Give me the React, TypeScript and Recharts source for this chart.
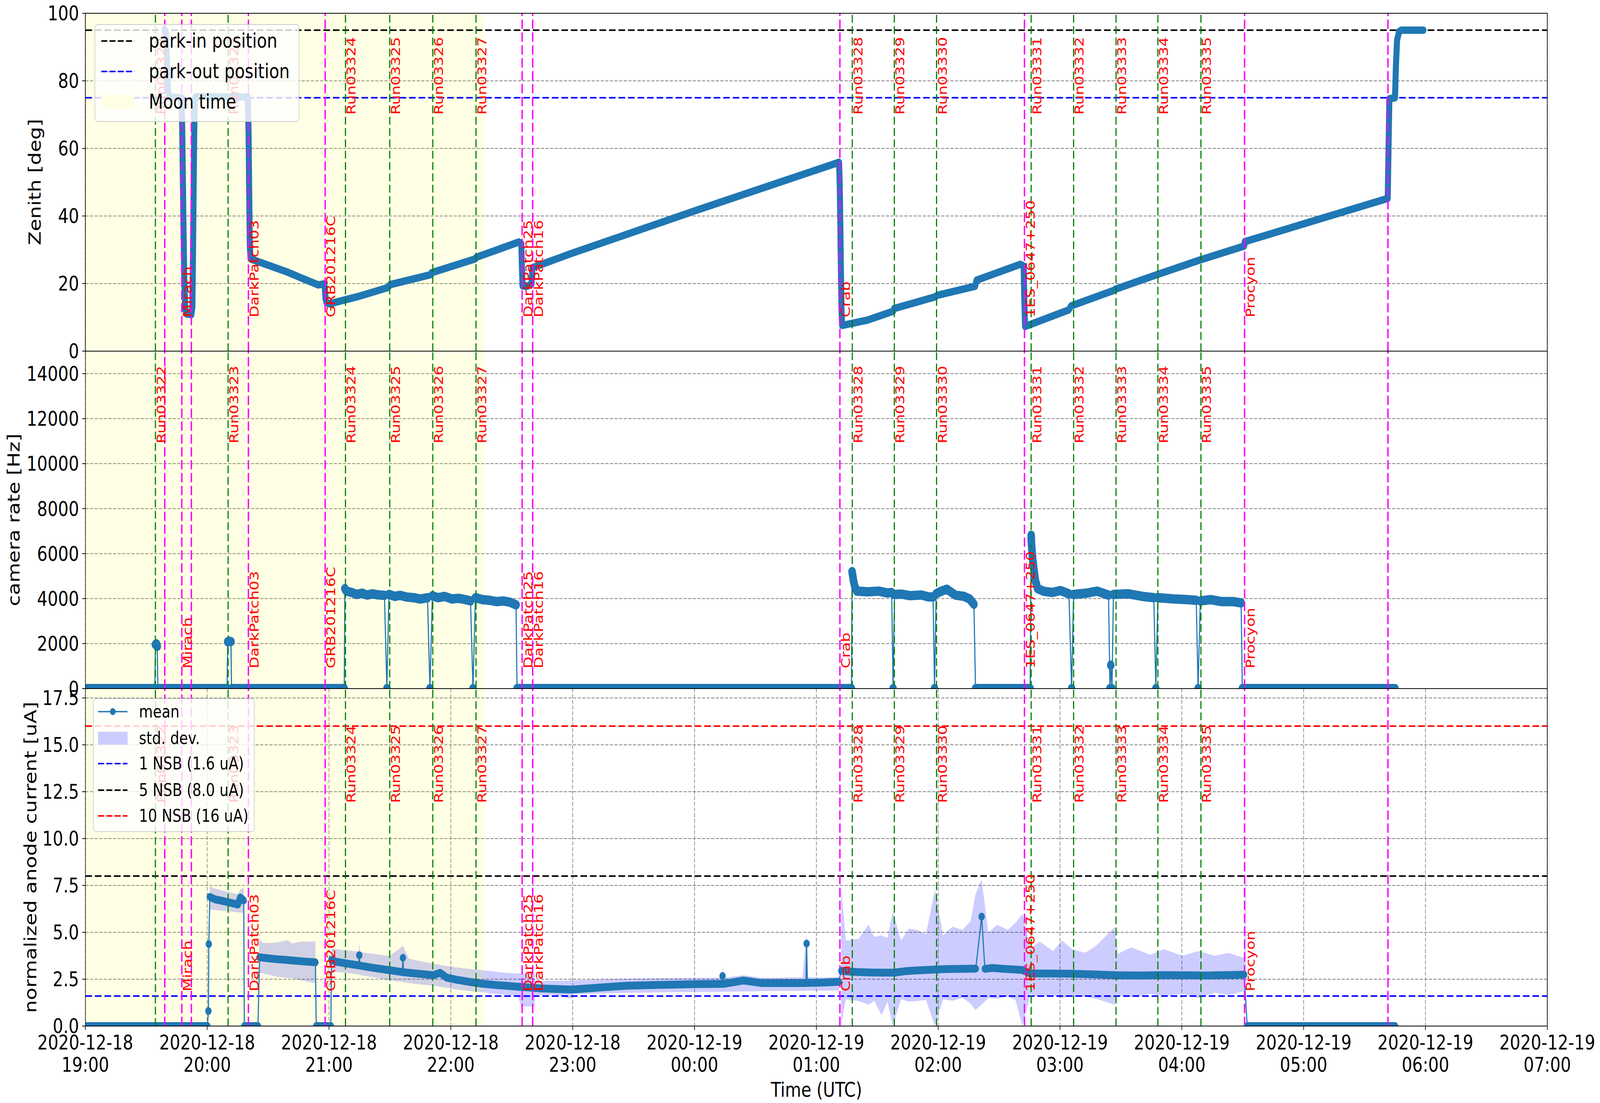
import React from 'react';
import {
  ComposedChart,
  Line,
  Area,
  XAxis,
  YAxis,
  CartesianGrid,
  ReferenceLine,
  ReferenceArea,
  ReferenceDot,
} from 'recharts';

// time is in minutes after 2020-12-18 19:00 UTC
const hourTicks = [0, 60, 120, 180, 240, 300, 360, 420, 480, 540, 600, 660, 720];
const hourDates = [
  '2020-12-18', '2020-12-18', '2020-12-18', '2020-12-18', '2020-12-18',
  '2020-12-19', '2020-12-19', '2020-12-19', '2020-12-19', '2020-12-19',
  '2020-12-19', '2020-12-19', '2020-12-19',
];
const hourNames = ['19:00', '20:00', '21:00', '22:00', '23:00', '00:00', '01:00', '02:00', '03:00', '04:00', '05:00', '06:00', '07:00'];

const zenithTicks = [0, 20, 40, 60, 80, 100];
const rateTicks = [0, 2000, 4000, 6000, 8000, 10000, 12000, 14000];
const currentTicks = [0, 2.5, 5, 7.5, 10, 12.5, 15, 17.5];

const runStarts: [string, number][] = [
  ['Run03322', 34.5], ['Run03323', 70.3], ['Run03324', 128.1], ['Run03325', 149.9],
  ['Run03326', 171.1], ['Run03327', 192.4], ['Run03328', 377.7], ['Run03329', 398.4],
  ['Run03330', 419.2], ['Run03331', 465.8], ['Run03332', 486.7], ['Run03333', 507.6],
  ['Run03334', 528.2], ['Run03335', 549.4],
];
const sourceChanges: [string, number][] = [
  ['', 39.1], ['Mirach', 47.5], ['', 52.2], ['DarkPatch03', 80.3], ['GRB201216C', 118.1],
  ['DarkPatch25', 215.1], ['DarkPatch16', 220.3], ['Crab', 371.6], ['1ES_0647+250', 462.5],
  ['Procyon', 570.9], ['', 641.5],
];
const moonTime = [0, 196.6];

const parkIn = 95;
const parkOut = 75;
const nsb1 = 1.6;
const nsb5 = 8.0;
const nsb10 = 16;

// zenith angle [deg]
const zenith: [number, number][] = [
  [39.0, 95.3], [39.7, 94.0], [40.2, 86.0], [40.7, 77.0], [41.3, 75.2], [47.3, 75.0],
  [47.7, 66.0], [48.0, 52.0], [48.3, 38.0], [48.7, 22.0], [49.2, 12.5], [49.8, 11.0],
  [52.2, 10.8], [52.7, 13.0], [53.0, 28.0], [53.3, 47.0], [53.6, 64.0], [53.9, 74.0],
  [54.3, 75.3], [80.0, 75.2], [80.4, 64.0], [80.7, 46.0], [81.0, 31.0], [81.4, 27.3],
  [98.6, 23.6], [114.7, 19.6], [117.6, 19.9], [118.0, 18.4], [118.3, 15.5], [118.8, 14.3],
  [120.2, 14.0], [134.5, 16.2], [148.9, 18.8], [150.2, 19.7], [169.9, 22.6], [170.5, 23.2],
  [192.0, 27.3], [192.6, 27.8], [213.5, 32.3], [214.7, 31.8], [215.0, 25.0], [215.3, 19.3],
  [217.5, 19.2], [219.7, 19.8], [220.2, 24.7], [239.3, 28.9], [300.0, 41.5], [371.2, 55.9],
  [371.5, 50.0], [371.8, 38.0], [372.1, 24.0], [372.4, 12.0], [372.7, 7.6], [385.3, 9.2],
  [397.8, 11.8], [398.3, 12.6], [418.7, 16.1], [419.4, 16.5], [438.2, 19.2], [438.9, 21.0],
  [460.5, 25.7], [462.1, 25.2], [462.4, 16.0], [462.8, 7.3], [484.3, 12.2], [485.5, 13.4],
  [506.6, 18.0], [507.2, 18.3], [527.5, 22.6], [548.5, 26.9], [570.7, 31.1], [571.0, 32.4],
  [583.1, 34.6], [641.4, 45.2], [641.8, 60.0], [642.2, 74.7], [645.0, 75.0], [645.4, 84.0],
  [646.0, 92.0], [647.0, 94.6], [648.2, 95.0], [659.0, 95.0],
];

// camera rate [Hz], one list per uninterrupted stretch
const rateRuns: [number, number][][] = [
  [[0, 0], [34.2, 0]],
  [[34.5, 1960], [35.0, 1990], [35.4, 1880]],
  [[35.7, 0], [69.8, 0]],
  [[70.1, 2080], [70.9, 2100], [71.7, 2090]],
  [[72.0, 0], [127.5, 0]],
  [[127.8, 4445], [128.6, 4330], [131.2, 4272], [133.7, 4185], [136.3, 4243], [138.8, 4156], [141.4, 4214], [143.9, 4168], [147.3, 4145]],
  [[148.5, 0]],
  [[149.5, 4185], [152.4, 4098], [155.0, 4145], [158.3, 4069], [161.7, 4040], [165.1, 3983], [168.5, 4040]],
  [[169.7, 0]],
  [[170.9, 4127], [173.6, 4040], [177.0, 4098], [180.4, 3983], [183.8, 4012], [187.2, 3954], [189.7, 3896]],
  [[190.9, 0]],
  [[192.1, 4040], [195.6, 3954], [199.0, 3925], [202.4, 3867], [205.8, 3896], [209.2, 3838], [212.1, 3722]],
  [[212.6, 0], [377.3, 0]],
  [[377.6, 5200], [378.3, 4790], [378.9, 4560], [380.0, 4330], [385.3, 4300], [390.8, 4330], [395.0, 4250], [397.1, 4270]],
  [[397.8, 0]],
  [[398.5, 4185], [402.0, 4200], [406.2, 4130], [411.8, 4160], [415.0, 4080], [417.5, 4070]],
  [[418.2, 0]],
  [[419.0, 4214], [421.5, 4330], [424.3, 4416], [428.5, 4156], [432.7, 4098], [435.5, 3983], [437.6, 3750]],
  [[438.4, 0], [465.3, 0]],
  [[465.8, 6816], [465.9, 6527], [466.2, 6122], [466.6, 5718], [467.2, 5255], [467.9, 4792], [469.0, 4445], [471.8, 4330], [476.0, 4272], [480.2, 4359], [484.4, 4214]],
  [[485.7, 0]],
  [[486.7, 4185], [492.7, 4240], [498.3, 4330], [503.9, 4156]],
  [[504.6, 0]],
  [[505.0, 1041]],
  [[505.6, 0]],
  [[506.3, 4185], [513.7, 4214], [520.6, 4098], [526.2, 4040]],
  [[527.2, 0]],
  [[528.2, 4040], [536.0, 3983], [543.0, 3954], [547.1, 3925]],
  [[548.0, 0]],
  [[549.1, 3896], [554.1, 3954], [559.7, 3867], [565.3, 3867], [569.2, 3809]],
  [[569.8, 0], [645.0, 0]],
];

// mean normalized anode current [uA]
const meanRuns: [number, number][][] = [
  [[0, 0], [60.1, 0]],
  [[60.6, 0.8]],
  [[60.8, 4.37]],
  [[61.3, 6.89], [63.8, 6.76], [66.5, 6.7], [69.7, 6.62], [72.5, 6.55], [75.1, 6.48], [76.3, 6.86], [77.5, 6.75], [78.0, 6.7]],
  [[78.3, 0], [85.0, 0]],
  [[85.8, 3.67], [89.5, 3.62], [93.6, 3.57], [97.5, 3.54], [101.8, 3.5], [107.0, 3.45], [113.3, 3.4]],
  [[113.7, 0], [120.9, 0]],
  [[121.2, 3.54], [123.5, 3.43], [129.0, 3.33], [134.6, 3.24]],
  [[134.9, 3.78]],
  [[135.3, 3.22], [142.0, 3.1], [149.8, 2.98], [156.1, 2.88]],
  [[156.4, 3.64]],
  [[156.7, 2.87], [159.4, 2.84], [165.0, 2.78], [171.4, 2.71], [174.7, 2.84], [178.0, 2.58], [183.3, 2.46], [189.0, 2.36],
    [195.3, 2.26], [201.0, 2.2], [207.2, 2.15], [213.0, 2.1], [219.2, 2.05], [223.7, 2.01], [231.0, 1.98], [239.6, 1.95],
    [253.0, 2.05], [266.5, 2.15], [280.0, 2.19], [293.4, 2.22], [303.0, 2.24], [313.4, 2.25]],
  [[313.8, 2.67]],
  [[314.3, 2.25], [324.1, 2.43], [333.3, 2.29], [345.0, 2.29], [354.9, 2.29]],
  [[355.2, 4.4]],
  [[355.6, 2.3], [363.0, 2.32], [371.0, 2.36]],
  [[372.3, 2.95], [374.5, 2.92], [380.0, 2.88], [386.0, 2.86], [392.0, 2.85], [398.4, 2.85], [404.0, 2.93], [410.0, 2.97],
    [419.3, 3.02], [425.0, 3.04], [432.0, 3.05], [438.5, 3.06]],
  [[441.4, 5.84]],
  [[443.0, 3.05], [446.7, 3.1], [452.0, 3.05], [457.0, 3.02], [461.4, 2.99], [465.4, 2.8], [475.0, 2.8], [485.0, 2.79],
    [495.0, 2.76], [508.5, 2.71], [520.0, 2.7], [530.0, 2.72], [540.4, 2.71], [552.0, 2.7], [562.0, 2.72], [570.7, 2.74]],
  [[572.2, 0], [645.0, 0]],
];

// std. dev. envelope [t, low, high]
const stdBlocks: [number, number, number][][] = [
  [[61.3, 6.24, 7.45], [63.8, 6.18, 7.34], [69.7, 6.13, 7.17], [75.1, 6.06, 7.03], [76.3, 6.05, 7.27], [77.5, 6.03, 7.38], [78.0, 6.05, 7.3]],
  [[85.5, 2.84, 4.65], [87.6, 2.8, 4.44], [93.6, 2.64, 4.44], [99.6, 2.57, 4.58], [102.0, 2.55, 4.4], [106.2, 2.43, 4.51], [113.3, 2.29, 4.51]],
  [[121.2, 2.91, 4.13], [128.0, 2.85, 4.05], [134.6, 2.75, 3.97], [134.9, 2.75, 4.44], [135.3, 2.72, 3.95], [142.0, 2.6, 3.85],
    [149.8, 2.43, 3.74], [156.4, 2.35, 4.27], [159.4, 2.29, 3.6], [165.0, 2.22, 3.46], [171.4, 2.15, 3.33], [177.0, 2.05, 3.22],
    [183.3, 1.94, 3.12], [189.0, 1.87, 3.05], [195.3, 1.8, 2.98], [201.0, 1.73, 2.91], [207.2, 1.66, 2.84], [213.0, 1.62, 2.8],
    [214.6, 1.04, 2.79], [221.3, 1.04, 2.77], [221.6, 1.65, 2.42], [231.0, 1.66, 2.42], [239.3, 1.46, 2.43], [240.0, 1.7, 2.44],
    [253.0, 1.73, 2.49], [266.5, 1.77, 2.53], [280.0, 1.79, 2.55], [293.4, 1.81, 2.57], [313.4, 1.83, 2.58], [313.9, 1.83, 3.19],
    [314.4, 1.83, 2.58], [324.1, 1.84, 2.71], [333.3, 1.86, 2.58], [353.2, 1.88, 2.6], [355.2, 1.88, 5.02], [355.6, 1.88, 2.6],
    [371.2, 1.9, 2.6]],
  [[372.2, 0, 7.54], [374.5, 1.43, 4.56], [380.9, 1.33, 4.66], [385.7, 1.14, 5.41], [388.5, 1.35, 4.75], [392.1, 0.58, 4.84],
    [395.0, 1.3, 4.7], [397.6, 0, 6.12], [401.7, 1.43, 4.56], [405.5, 1.3, 5.2], [409.6, 1.33, 5.13], [414.0, 1.4, 4.9],
    [418.4, 0, 7.26], [422.4, 1.43, 4.84], [427.0, 1.35, 5.3], [432.0, 1.5, 5.13], [436.0, 1.2, 5.6], [438.3, 0.86, 7.0],
    [441.4, 1.14, 7.83], [444.7, 1.5, 4.98], [449.0, 1.45, 5.4], [454.3, 1.57, 5.13], [458.0, 1.4, 5.5], [461.5, 0, 5.98],
    [465.5, 1.71, 4.13], [470.0, 1.55, 4.5], [476.6, 1.65, 4.0], [481.0, 1.5, 4.56], [486.0, 1.6, 4.1], [492.6, 1.57, 3.91],
    [498.0, 1.45, 4.3], [506.9, 1.14, 5.27], [508.5, 1.65, 3.85], [515.0, 1.55, 4.2], [524.5, 1.71, 3.8], [531.0, 1.6, 4.1],
    [540.4, 1.71, 3.75], [548.0, 1.5, 4.0], [556.4, 1.78, 3.75], [563.0, 1.65, 3.9], [570.7, 1.86, 3.63], [571.5, 1.9, 9.39]],
];

const BLUE = '#1f77b4';
const FONT = 'DejaVu Sans';
const W = 5042;
const H = 2824;
const PLOT_LEFT = 269;
const PLOT_RIGHT = 4876;

const toLine = (runs: [number, number][][]) => runs.flat().map(([t, v]) => ({ t, v }));
const toBand = (runs: [number, number][][]) => {
  const out: { t: number; v: number | null }[] = [];
  runs.forEach((run, i) => {
    run.forEach(([t, v]) => out.push({ t, v }));
    if (i < runs.length - 1) out.push({ t: (run[run.length - 1][0] + runs[i + 1][0][0]) / 2, v: null });
  });
  return out;
};

const zenithData = zenith.map(([t, z]) => ({ t, z }));
const rateLine = toLine(rateRuns);
const rateBand = toBand(rateRuns);
const meanLine = toLine(meanRuns);
const meanBand = toBand(meanRuns);

const tickStyle = { fontSize: 52, fill: '#000', fontFamily: FONT };

const VText = ({ cx, cy, text }: any) => {
  const bx = cx + 32;
  return (
    <text x={bx} y={cy} transform={`rotate(-90 ${bx} ${cy})`} fill="#ff0000" fontSize={39} fontFamily={FONT}>
      {text}
    </text>
  );
};

const TimeTick = (props: any) => {
  const { x, payload } = props;
  const i = hourTicks.indexOf(payload.value);
  return (
    <g>
      <text x={x} y={924} textAnchor="middle" fontSize={52} fontFamily={FONT} fill="#000">{hourDates[i]}</text>
      <text x={x} y={981} textAnchor="middle" fontSize={52} fontFamily={FONT} fill="#000">{hourNames[i]}</text>
    </g>
  );
};

const hiddenX = (
  <XAxis type="number" dataKey="t" domain={[0, 720]} ticks={hourTicks} allowDataOverflow height={0}
    tick={false} tickLine={false} axisLine={false} />
);

const grid = <CartesianGrid stroke="#808080" strokeDasharray="10 4.5" strokeWidth={2} />;

const moon = (
  <ReferenceArea x1={moonTime[0]} x2={moonTime[1]} fill="#ffff00" fillOpacity={0.1} stroke="none" />
);

// vertical run / source markers with their rotated names
const markers = (runY: number, srcY: number) => [
  ...runStarts.map(([name, t]) => (
    <ReferenceLine key={'rl' + name} x={t} stroke="#008000" strokeWidth={3.6} strokeDasharray="20 9" />
  )),
  ...sourceChanges.map(([, t], i) => (
    <ReferenceLine key={'sl' + i} x={t} stroke="#ff00ff" strokeWidth={4.4} strokeDasharray="24 9" />
  )),
  ...runStarts.map(([name, t]) => (
    <ReferenceDot key={'rt' + name} x={t} y={runY} r={1}
      shape={(p: any) => <VText cx={p.cx} cy={p.cy} text={name} />} />
  )),
  ...sourceChanges.filter(([name]) => name).map(([name, t]) => (
    <ReferenceDot key={'st' + name} x={t} y={srcY} r={1}
      shape={(p: any) => <VText cx={p.cx} cy={p.cy} text={name} />} />
  )),
];

const hLine = (y: number, color: string) => (
  <ReferenceLine y={y} stroke={color} strokeWidth={4} strokeDasharray="21 9" />
);

const yAxis = (domain: number[], ticks: number[], fmt?: (v: number) => string) => (
  <YAxis type="number" domain={domain} ticks={ticks} allowDataOverflow width={PLOT_LEFT} interval={0}
    tick={tickStyle} tickSize={10} tickMargin={10} tickFormatter={fmt}
    tickLine={{ stroke: '#000', strokeWidth: 2 }} axisLine={false} />
);

const LegendRow = ({ y, hx, hw, tx, size, handle, text }: any) => (
  <>
    <div style={{ position: 'absolute', left: hx, top: y, width: hw, transform: 'translateY(-50%)' }}>{handle}</div>
    <div style={{ position: 'absolute', left: tx, top: y, transform: 'translateY(-52%)', fontSize: size, lineHeight: 1, whiteSpace: 'nowrap' }}>
      {text}
    </div>
  </>
);

const dashHandle = (w: number, color: string) => (
  <svg width={w} height={20} style={{ display: 'block' }}>
    <line x1={0} y1={10} x2={w} y2={10} stroke={color} strokeWidth={4} strokeDasharray="19 7" />
  </svg>
);

const AxisTitle = ({ x, y, rotate, children }: any) => (
  <div style={{
    position: 'absolute', left: x, top: y, fontSize: 52, lineHeight: 1, whiteSpace: 'nowrap',
    transform: `translate(-50%, -50%)${rotate ? ' rotate(-90deg)' : ''}`,
  }}>
    {children}
  </div>
);

const frame = (top: number, bottom: number) => (
  <div style={{
    position: 'absolute', left: PLOT_LEFT - 1, top: top - 1, width: PLOT_RIGHT - PLOT_LEFT + 2,
    height: bottom - top + 2, border: '2px solid #000', boxSizing: 'border-box', pointerEvents: 'none',
  }} />
);

export default function App() {
  // drawn at 5042x2824, then stretched onto whatever viewport the page really gets
  const vw = (typeof window !== 'undefined' && window.innerWidth) || W;
  const vh = (typeof window !== 'undefined' && window.innerHeight) || H;
  const sx = vw / W;
  const sy = vh / H;

  return (
    <>
      <style>{'html,body{margin:0;overflow:hidden} svg.recharts-surface{overflow:visible}'}</style>
      <div style={{ position: 'relative', width: vw, height: vh, overflow: 'hidden', background: '#fff' }}>
        <div style={{
          position: 'absolute', left: 0, top: 0, width: W, height: H, background: '#fff', fontFamily: FONT, color: '#000',
          transform: `scale(${sx}, ${sy})`, transformOrigin: '0 0',
        }}>
          {/* zenith */}
          <div style={{ position: 'absolute', left: 0, top: 0 }}>
            <ComposedChart width={W} height={899} margin={{ top: 34, right: W - PLOT_RIGHT, bottom: 0, left: 0 }}>
              {hiddenX}
              {yAxis([0, 100], zenithTicks)}
              {grid}
              {hLine(parkIn, '#000000')}
              {hLine(parkOut, '#0000ff')}
              <Line data={zenithData} dataKey="z" stroke={BLUE} strokeWidth={19} dot={false}
                strokeLinecap="round" strokeLinejoin="round" isAnimationActive={false} />
              {moon}
              {markers(70, 10)}
            </ComposedChart>
          </div>

          {/* camera rate */}
          <div style={{ position: 'absolute', left: 0, top: 899 }}>
            <ComposedChart width={W} height={864} margin={{ top: 0, right: W - PLOT_RIGHT, bottom: 0, left: 0 }}>
              {hiddenX}
              {yAxis([0, 15000], rateTicks)}
              {grid}
              <Line data={rateBand} dataKey="v" stroke={BLUE} strokeWidth={24} dot={false} connectNulls={false}
                strokeLinecap="round" strokeLinejoin="round" isAnimationActive={false} />
              <Line data={rateLine} dataKey="v" stroke={BLUE} strokeWidth={3.5}
                dot={{ r: 9, fill: BLUE, stroke: 'none' }} isAnimationActive={false} />
              {moon}
              {markers(10900, 900)}
            </ComposedChart>
          </div>

          {/* anode current */}
          <div style={{ position: 'absolute', left: 0, top: 1763 }}>
            <ComposedChart width={W} height={1061} margin={{ top: 0, right: W - PLOT_RIGHT, bottom: 0, left: 0 }}>
              <XAxis type="number" dataKey="t" domain={[0, 720]} ticks={hourTicks} interval={0} allowDataOverflow
                height={197} tick={TimeTick} tickSize={10} tickLine={{ stroke: '#000', strokeWidth: 2 }} axisLine={false} />
              {yAxis([0, 18], currentTicks, (v: number) => v.toFixed(1))}
              {grid}
              {hLine(nsb1, '#0000ff')}
              {hLine(nsb5, '#000000')}
              {hLine(nsb10, '#ff0000')}
              {stdBlocks.map((blk, i) => (
                <Area key={'std' + i} data={blk.map(([t, lo, hi]) => ({ t, r: [lo, hi] }))} dataKey="r" type="linear"
                  stroke="none" fill="#0000ff" fillOpacity={0.2} isAnimationActive={false} />
              ))}
              <Line data={meanBand} dataKey="v" stroke={BLUE} strokeWidth={20} dot={false} connectNulls={false}
                strokeLinecap="round" strokeLinejoin="round" isAnimationActive={false} />
              <Line data={meanLine} dataKey="v" stroke={BLUE} strokeWidth={3.5}
                dot={{ r: 9, fill: BLUE, stroke: 'none' }} isAnimationActive={false} />
              {moon}
              {markers(11.9, 1.85)}
            </ComposedChart>
          </div>

          {frame(34, 899)}
          {frame(899, 1763)}
          {frame(1763, 2627)}

          <AxisTitle x={110} y={466} rotate>Zenith [deg]</AxisTitle>
          <AxisTitle x={44} y={1331} rotate>camera rate [Hz]</AxisTitle>
          <AxisTitle x={97} y={2195} rotate>normalized anode current [uA]</AxisTitle>
          <AxisTitle x={2573} y={2790}>Time (UTC)</AxisTitle>

          {/* zenith legend */}
          <div style={{
            position: 'absolute', left: 298, top: 62, width: 645, height: 250, background: 'rgba(255,255,255,0.8)',
            border: '2px solid #cccccc', borderRadius: 10, boxSizing: 'border-box',
          }}>
            <LegendRow y={41} hx={19} hw={105} tx={169} size={52} handle={dashHandle(105, '#000000')} text="park-in position" />
            <LegendRow y={119} hx={19} hw={105} tx={169} size={52} handle={dashHandle(105, '#0000ff')} text="park-out position" />
            <LegendRow y={197} hx={19} hw={105} tx={169} size={52}
              handle={<div style={{ width: 105, height: 37, background: '#ffffe5' }} />} text="Moon time" />
          </div>

          {/* current legend */}
          <div style={{
            position: 'absolute', left: 293, top: 1788, width: 509, height: 342, background: 'rgba(255,255,255,0.8)',
            border: '2px solid #cccccc', borderRadius: 10, boxSizing: 'border-box',
          }}>
            <LegendRow y={32} hx={14} hw={93} tx={143} size={45} text="mean"
              handle={
                <svg width={93} height={24} style={{ display: 'block' }}>
                  <line x1={0} y1={12} x2={93} y2={12} stroke={BLUE} strokeWidth={3.5} />
                  <circle cx={46.5} cy={12} r={9} fill={BLUE} />
                </svg>
              } />
            <LegendRow y={100} hx={14} hw={93} tx={143} size={45} text="std. dev."
              handle={<div style={{ width: 93, height: 33, background: '#ccccff' }} />} />
            <LegendRow y={165} hx={14} hw={93} tx={143} size={45} handle={dashHandle(93, '#0000ff')} text="1 NSB (1.6 uA)" />
            <LegendRow y={233} hx={14} hw={93} tx={143} size={45} handle={dashHandle(93, '#000000')} text="5 NSB (8.0 uA)" />
            <LegendRow y={299} hx={14} hw={93} tx={143} size={45} handle={dashHandle(93, '#ff0000')} text="10 NSB (16 uA)" />
          </div>
        </div>
      </div>
    </>
  );
}
